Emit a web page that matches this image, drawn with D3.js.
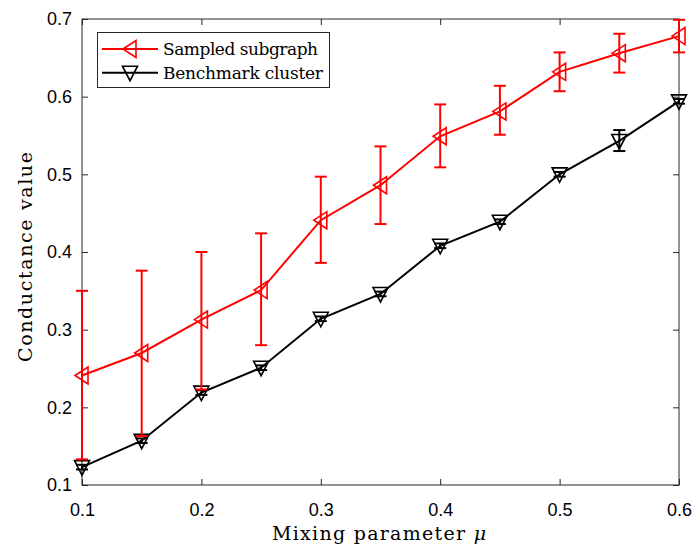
<!DOCTYPE html>
<html>
<head>
<meta charset="utf-8">
<script src="https://cdn.jsdelivr.net/npm/d3@7"></script>
<style>
  html, body { margin: 0; padding: 0; background: #fff; }
  svg { display: block; }
</style>
</head>
<body>
<svg id="chart" width="694" height="550"></svg>
<script>
// Mixing parameter values
const mu = [0.1, 0.15, 0.2, 0.25, 0.3, 0.35, 0.4, 0.45, 0.5, 0.55, 0.6];

// Sampled subgraph: mean conductance and error-bar extents
const sampledMean  = [0.241, 0.270, 0.313, 0.351, 0.441, 0.486, 0.549, 0.581, 0.632, 0.656, 0.678];
const sampledUpper = [0.350, 0.376, 0.400, 0.424, 0.497, 0.536, 0.590, 0.614, 0.657, 0.681, 0.699];
const sampledLower = [0.133, 0.163, 0.223, 0.280, 0.386, 0.436, 0.509, 0.551, 0.607, 0.631, 0.657];

// Benchmark cluster: mean conductance and error-bar extents
const benchMean  = [0.123, 0.157, 0.219, 0.251, 0.314, 0.346, 0.408, 0.439, 0.500, 0.543, 0.594];
const benchUpper = [0.126, 0.160, 0.222, 0.254, 0.317, 0.349, 0.411, 0.442, 0.503, 0.557, 0.597];
const benchLower = [0.120, 0.154, 0.216, 0.248, 0.311, 0.343, 0.405, 0.436, 0.497, 0.530, 0.591];

// Axis ticks
const xTicks = [0.1, 0.2, 0.3, 0.4, 0.5, 0.6];
const yTicks = [0.1, 0.2, 0.3, 0.4, 0.5, 0.6, 0.7];

const svg = d3.select("#chart");
const plotL = 82, plotR = 679, plotT = 19, plotB = 485;

const x = d3.scaleLinear().domain([0.1, 0.6]).range([plotL, plotR]);
const y = d3.scaleLinear().domain([0.1, 0.7]).range([plotB, plotT]);

const axisColor = "#262626";
const tickFont = "'Liberation Sans', Arial, sans-serif";
const serifFont = "'DejaVu Serif', 'Liberation Serif', serif";

// Axes with inward ticks, mirrored on the opposite sides
const tickLen = 6;
function styleAxis(g) {
  g.select(".domain").remove();
  g.selectAll(".tick line").attr("stroke", axisColor).attr("stroke-width", 1);
  g.selectAll(".tick text").attr("fill", "#000").style("font-family", tickFont).style("font-size", "18px");
}
svg.append("g").attr("transform", `translate(0,${plotB})`)
  .call(d3.axisBottom(x).tickValues(xTicks).tickFormat(d3.format(".1f")).tickSizeInner(-tickLen).tickSizeOuter(0).tickPadding(18))
  .call(styleAxis);
svg.append("g").attr("transform", `translate(0,${plotT})`)
  .call(d3.axisTop(x).tickValues(xTicks).tickFormat("").tickSizeInner(-tickLen).tickSizeOuter(0))
  .call(styleAxis);
svg.append("g").attr("transform", `translate(${plotL},0)`)
  .call(d3.axisLeft(y).tickValues(yTicks).tickFormat(d3.format(".1f")).tickSizeInner(-tickLen).tickSizeOuter(0).tickPadding(10))
  .call(styleAxis);
svg.append("g").attr("transform", `translate(${plotR},0)`)
  .call(d3.axisRight(y).tickValues(yTicks).tickFormat("").tickSizeInner(-tickLen).tickSizeOuter(0))
  .call(styleAxis);

// Plot frame
svg.append("rect")
  .attr("x", plotL).attr("y", plotT)
  .attr("width", plotR - plotL).attr("height", plotB - plotT)
  .attr("fill", "none").attr("stroke", axisColor).attr("stroke-width", 1);

// Axis labels
svg.append("text")
  .attr("x", 272).attr("y", 540)
  .attr("textLength", 214).attr("lengthAdjust", "spacing")
  .style("font-family", serifFont).style("font-size", "19px")
  .html("Mixing parameter <tspan font-style='italic'>μ</tspan>");
svg.append("text")
  .attr("transform", `translate(32,362) rotate(-90)`)
  .attr("textLength", 210).attr("lengthAdjust", "spacing")
  .style("font-family", serifFont).style("font-size", "19px")
  .text("Conductance value");

// Marker shapes
const triLeft = (cx, cy) => `M${cx - 7},${cy} L${cx + 6},${cy - 8.5} L${cx + 6},${cy + 8.5} Z`;
const triDown = (cx, cy) => `M${cx - 7.5},${cy - 6.5} L${cx + 7.5},${cy - 6.5} L${cx},${cy + 8} Z`;

function drawSeries(mean, lower, upper, color, shape) {
  const g = svg.append("g");
  const line = d3.line().x((d, i) => x(mu[i])).y(d => y(d));
  g.append("path").datum(mean)
    .attr("d", line).attr("fill", "none").attr("stroke", color).attr("stroke-width", 2);
  const cap = 6;
  const eb = g.selectAll(".eb").data(mu).join("g");
  eb.append("line")
    .attr("x1", d => x(d)).attr("x2", d => x(d))
    .attr("y1", (d, i) => y(lower[i])).attr("y2", (d, i) => y(upper[i]))
    .attr("stroke", color).attr("stroke-width", 2);
  eb.append("line")
    .attr("x1", d => x(d) - cap).attr("x2", d => x(d) + cap)
    .attr("y1", (d, i) => y(upper[i])).attr("y2", (d, i) => y(upper[i]))
    .attr("stroke", color).attr("stroke-width", 2);
  eb.append("line")
    .attr("x1", d => x(d) - cap).attr("x2", d => x(d) + cap)
    .attr("y1", (d, i) => y(lower[i])).attr("y2", (d, i) => y(lower[i]))
    .attr("stroke", color).attr("stroke-width", 2);
  g.selectAll(".mk").data(mean).join("path")
    .attr("d", (d, i) => shape(x(mu[i]), y(d)))
    .attr("fill", "none").attr("stroke", color).attr("stroke-width", 1.6);
}

drawSeries(benchMean, benchLower, benchUpper, "#000", triDown);
drawSeries(sampledMean, sampledLower, sampledUpper, "#ff0000", triLeft);

// Legend
const lg = svg.append("g");
lg.append("rect").attr("x", 97.5).attr("y", 32.5).attr("width", 232).attr("height", 55)
  .attr("fill", "#fff").attr("stroke", axisColor).attr("stroke-width", 1);
const legendItems = [
  { label: "Sampled subgraph", color: "#ff0000", shape: triLeft, yy: 49, w: 155 },
  { label: "Benchmark cluster", color: "#000", shape: triDown, yy: 72.7, w: 160 }
];
legendItems.forEach(it => {
  lg.append("line").attr("x1", 102).attr("x2", 158).attr("y1", it.yy).attr("y2", it.yy)
    .attr("stroke", it.color).attr("stroke-width", 2);
  lg.append("path").attr("d", it.shape(130, it.yy))
    .attr("fill", "none").attr("stroke", it.color).attr("stroke-width", 1.6);
  lg.append("text").attr("x", 163).attr("y", it.yy + 6)
    .attr("textLength", it.w).attr("lengthAdjust", "spacing")
    .style("font-family", serifFont).style("font-size", "17px")
    .text(it.label);
});
</script>
</body>
</html>
